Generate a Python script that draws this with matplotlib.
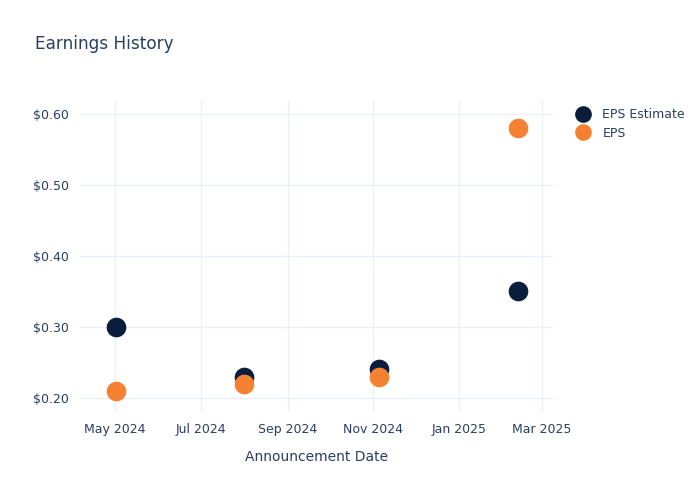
import datetime as dt

import matplotlib
matplotlib.use('Agg')
import matplotlib.pyplot as plt
import matplotlib.dates as mdates
from matplotlib.ticker import FuncFormatter
from matplotlib.lines import Line2D

# Data
dates = ['2024-05-02', '2024-08-01', '2024-11-05', '2025-02-12']
eps_estimate = [0.30, 0.23, 0.24, 0.35]
eps_actual = [0.21, 0.22, 0.23, 0.58]
x_ticks = ['2024-05-01', '2024-07-01', '2024-09-01', '2024-11-01', '2025-01-01', '2025-03-01']
y_ticks = [0.20, 0.30, 0.40, 0.50, 0.60]

text_color = '#2a3f5f'
grid_color = '#ebf0f8'
est_color = '#0b1d3c'
eps_color = '#f58233'

x = [dt.datetime.strptime(d, '%Y-%m-%d') for d in dates]
xt = [dt.datetime.strptime(d, '%Y-%m-%d') for d in x_ticks]

fig = plt.figure(figsize=(7, 5), dpi=100)
ax = fig.add_axes([80 / 700, 88 / 500, 473 / 700, 312 / 500])

ax.scatter(x, eps_estimate, s=200, color=est_color, zorder=3, linewidths=0)
ax.scatter(x, eps_actual, s=200, color=eps_color, zorder=4, linewidths=0)

ax.set_xlim(dt.datetime(2024, 4, 6), dt.datetime(2025, 3, 9))
ax.set_ylim(0.18, 0.62)
ax.set_xticks(xt)
ax.xaxis.set_major_formatter(mdates.DateFormatter('%b %Y'))
ax.set_yticks(y_ticks)
ax.yaxis.set_major_formatter(FuncFormatter(lambda v, p: f'${v:.2f}'))

ax.grid(True, color=grid_color, linewidth=1)
ax.set_axisbelow(True)
for s in ax.spines.values():
    s.set_visible(False)
ax.tick_params(length=0, labelsize=9, colors=text_color, pad=8)

ax.set_xlabel('Announcement Date', fontsize=10, color=text_color, labelpad=10)
fig.text(35 / 700, 1 - 44 / 500, 'Earnings History', fontsize=12.2, color=text_color,
         va='center', ha='left')

handles = [
    Line2D([], [], marker='o', linestyle='', markersize=11, color=est_color, label='EPS Estimate'),
    Line2D([], [], marker='o', linestyle='', markersize=11, color=eps_color, label='EPS'),
]
fig.legend(handles=handles, loc='upper left', bbox_to_anchor=(570 / 700, 1 - 103 / 500),
           frameon=False, fontsize=9, labelcolor=text_color, handletextpad=1.0,
           labelspacing=0.45, borderaxespad=0, handlelength=1.2)

fig.savefig('out.png', dpi=100)
